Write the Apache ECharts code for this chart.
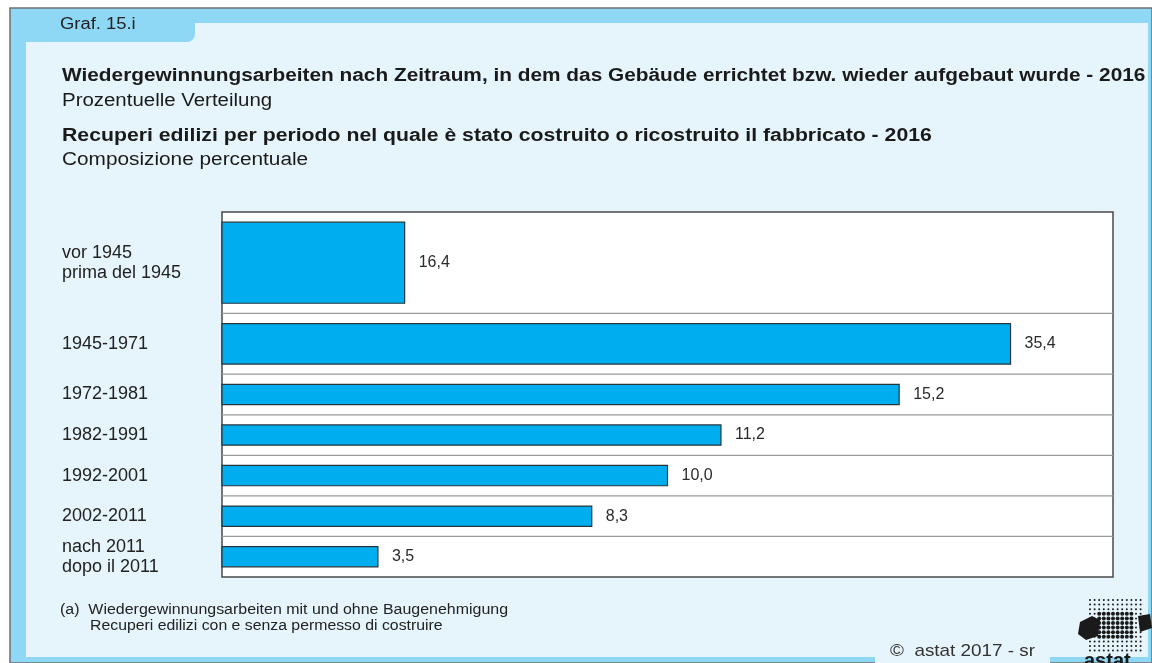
<!DOCTYPE html>
<html>
  <head>
    <meta charset="utf-8" />
    <title>Graf. 15.i</title>
    <script src="https://cdn.jsdelivr.net/npm/echarts@6/dist/echarts.min.js"></script>
    <style>
      html, body { margin: 0; padding: 0; background: #fff; }
    </style>
  </head>
  <body>
    <div id="main" style="width: 1152px;height:663px;"></div>

    <script type="text/javascript">
      var chart = echarts.init(document.getElementById('main'));

      // periods and their share (%)
      var categories = ['vor 1945\nprima del 1945', '1945-1971', '1972-1981', '1982-1991', '1992-2001', '2002-2011', 'nach 2011\ndopo il 2011'];
      var values = [16.4, 35.4, 15.2, 11.2, 10.0, 8.3, 3.5];
      // bar thickness factor (bar length = value / weight)
      var weights = [4, 2, 1, 1, 1, 1, 1];

      var FONT = '"Liberation Sans", Arial, sans-serif';
      var xMax = 20;

      // rows: each row is (weight + 1) units high
      var data = [];
      var pos = 0;
      for (var i = 0; i < values.length; i++) {
        var h = weights[i] + 1;
        data.push([values[i], weights[i], pos, pos + h, i]);
        pos += h;
      }
      var yMax = pos;

      function renderRow(params, api) {
        var v = api.value(0), w = api.value(1), y0 = api.value(2), y1 = api.value(3);
        var idx = api.value(4);
        var p0 = api.coord([0, y0 + 0.5]);
        var p1 = api.coord([v / w, y1 - 0.5]);
        var top = api.coord([0, y0]);
        var bot = api.coord([xMax, y1]);
        var cs = params.coordSys;
        var children = [
          {
            type: 'rect',
            shape: { x: p0[0], y: p0[1], width: p1[0] - p0[0], height: p1[1] - p0[1] },
            style: { fill: '#00aeef', stroke: '#26343c', lineWidth: 1.2 }
          },
          {
            type: 'text',
            style: {
              text: v.toFixed(1).replace('.', ','),
              x: p1[0] + 14, y: (p0[1] + p1[1]) / 2,
              textAlign: 'left', textVerticalAlign: 'middle',
              font: '16px ' + FONT, fill: '#2a2a2a'
            }
          },
          {
            type: 'text',
            style: {
              text: categories[idx],
              x: 62, y: (top[1] + bot[1]) / 2,
              textAlign: 'left', textVerticalAlign: 'middle',
              font: '18px ' + FONT, fill: '#222', lineHeight: 20
            }
          }
        ];
        if (idx < values.length - 1) {
          children.push({
            type: 'line',
            shape: { x1: cs.x, y1: bot[1], x2: cs.x + cs.width, y2: bot[1] },
            style: { stroke: '#9a9a9a', lineWidth: 1.2 }
          });
        }
        return { type: 'group', children: children };
      }

      // stretched text helper
      function label(text, x, y, font, sx, extra) {
        var style = { text: text, x: 0, y: 0, textVerticalAlign: 'middle', font: font + ' ' + FONT, fill: '#1a1a1a' };
        if (extra) { for (var k in extra) style[k] = extra[k]; }
        return { type: 'text', z: 5, x: x, y: y, scaleX: sx, style: style };
      }

      // decorative logo dots
      var logo = [];
      for (var r = 0; r < 12; r++) {
        for (var c = 0; c < 12; c++) {
          var big = r > 2 && r < 9 && c > 1 && c < 10;
          logo.push({
            type: 'circle',
            shape: { cx: 1090 + c * 4.6, cy: 600 + r * 4.6, r: big ? 2 : 1 },
            style: { fill: '#1a1a1a' }
          });
        }
      }
      logo.push({
        type: 'polygon',
        shape: { points: [[1080, 622], [1092, 616], [1100, 620], [1098, 636], [1086, 640], [1078, 634]] },
        style: { fill: '#1a1a1a' }
      });
      logo.push({
        type: 'polygon',
        shape: { points: [[1138, 616], [1150, 614], [1152, 628], [1140, 632]] },
        style: { fill: '#1a1a1a' }
      });
      logo.push({
        type: 'text',
        style: { text: 'astat', x: 1084, y: 651, font: 'bold 20px ' + FONT, fill: '#1a1a1a' }
      });

      var option = {
        animation: false,
        backgroundColor: '#fff',
        graphic: [
          // outer frame
          { type: 'rect', z: -10, shape: { x: 10, y: 8, width: 1142, height: 655 }, style: { fill: '#8ed8f5', stroke: '#6f6f6f', lineWidth: 1.5 } },
          // inner panel
          { type: 'rect', z: -9, shape: { x: 26, y: 23, width: 1122, height: 634 }, style: { fill: '#e6f5fc' } },
          // tab
          { type: 'rect', z: -8, shape: { x: 26, y: 9, width: 169, height: 33, r: [0, 0, 8, 0] }, style: { fill: '#8ed8f5' } },
          // copyright tab
          { type: 'rect', z: -8, shape: { x: 875, y: 640, width: 175, height: 30, r: 8 }, style: { fill: '#e6f5fc' } },
          label('Graf. 15.i', 60, 25, '16px', 1.15, { fill: '#222' }),
          label('Wiedergewinnungsarbeiten nach Zeitraum, in dem das Gebäude errichtet bzw. wieder aufgebaut wurde - 2016', 62, 76, 'bold 18px', 1.157),
          label('Prozentuelle Verteilung', 62, 101, '18px', 1.135),
          label('Recuperi edilizi per periodo nel quale è stato costruito o ricostruito il fabbricato - 2016', 62, 136, 'bold 18px', 1.18),
          label('Composizione percentuale', 62, 160, '18px', 1.155),
          label('(a)  Wiedergewinnungsarbeiten mit und ohne Baugenehmigung', 60, 610, '14px', 1.14, { fill: '#222' }),
          label('Recuperi edilizi con e senza permesso di costruire', 90, 626, '14px', 1.13, { fill: '#222' }),
          label('©  astat 2017 - sr', 890, 651, '17px', 1.11, { fill: '#333' }),
          { type: 'group', z: 5, children: logo }
        ],
        grid: {
          left: 222,
          right: 39,
          top: 212,
          bottom: 86,
          show: true,
          backgroundColor: '#fff',
          borderColor: '#4a4a4a',
          borderWidth: 1.5
        },
        xAxis: { type: 'value', min: 0, max: xMax, show: false },
        yAxis: { type: 'value', min: 0, max: yMax, inverse: true, show: false },
        series: [
          {
            type: 'custom',
            renderItem: renderRow,
            encode: { x: 0, y: [2, 3] },
            data: data
          }
        ]
      };

      chart.setOption(option);
    </script>
  </body>
</html>
